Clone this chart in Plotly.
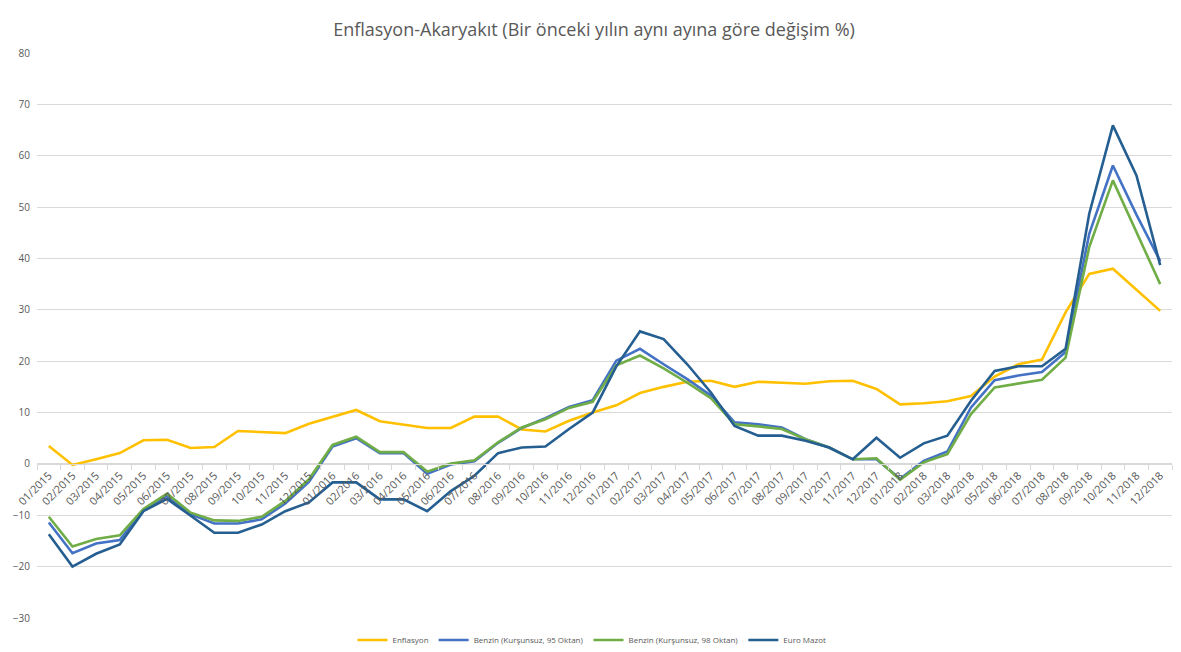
import plotly.graph_objects as go

months = [f"{m:02d}/{y}" for y in range(2015, 2019) for m in range(1, 13)]

enflasyon = [3.5, -0.2, 0.9, 2.1, 4.6, 4.7, 3.1, 3.3, 6.4, 6.2, 6.0, 7.8,
             9.2, 10.5, 8.3, 7.7, 7.0, 7.0, 9.2, 9.2, 6.7, 6.3, 8.4, 10.0,
             11.4, 13.8, 15.0, 16.0, 16.2, 15.0, 16.0, 15.8, 15.6, 16.1, 16.2, 14.6,
             11.6, 11.8, 12.2, 13.2, 17.0, 19.4, 20.3, 29.5, 37.0, 38.0, 33.9, 29.8]

benzin95 = [-11.4, -17.4, -15.5, -14.8, -8.9, -6.2, -9.8, -11.6, -11.6, -10.8, -7.7, -3.5,
            3.4, 5.0, 2.1, 2.1, -1.9, -0.1, 0.5, 4.1, 7.0, 8.9, 11.1, 12.4,
            20.1, 22.4, 19.4, 16.5, 13.3, 8.1, 7.7, 7.1, 4.8, 3.2, 0.9, 0.9,
            -2.9, 0.6, 2.4, 11.0, 16.3, 17.2, 17.9, 21.8, 44.8, 58.1, 48.5, 39.5]

benzin98 = [-10.3, -16.1, -14.6, -13.9, -8.8, -5.8, -9.5, -11.0, -11.1, -10.3, -7.2, -3.0,
            3.7, 5.3, 2.3, 2.3, -1.5, 0.1, 0.7, 4.2, 7.1, 8.7, 10.9, 12.1,
            19.2, 21.1, 18.6, 15.8, 12.8, 7.7, 7.3, 6.8, 4.8, 3.2, 0.9, 1.1,
            -3.1, 0.3, 1.9, 9.7, 14.9, 15.7, 16.4, 20.7, 42.2, 55.2, 45.0, 35.0]

euro_mazot = [-13.7, -20.0, -17.5, -15.7, -9.2, -6.8, -10.1, -13.4, -13.4, -11.8, -9.2, -7.5,
              -3.6, -3.6, -6.9, -6.9, -9.2, -5.3, -2.3, 2.1, 3.2, 3.4, 6.8, 10.0,
              19.0, 25.8, 24.3, 19.4, 13.9, 7.4, 5.5, 5.5, 4.5, 3.2, 0.9, 5.1,
              1.2, 4.0, 5.5, 12.3, 18.1, 19.0, 19.0, 22.4, 48.7, 65.9, 56.1, 38.7]

series_names = ["Enflasyon", "Benzin (Kurşunsuz, 95 Oktan)",
                "Benzin (Kurşunsuz, 98 Oktan)", "Euro Mazot"]
series_colors = ["#FFC000", "#4472C4", "#70AD47", "#255E91"]
series_values = [enflasyon, benzin95, benzin98, euro_mazot]

fig = go.Figure()
for name, color, vals in zip(series_names, series_colors, series_values):
    fig.add_trace(go.Scatter(x=months, y=vals, mode="lines", name=name,
                             line=dict(color=color, width=2.6)))

font_family = "Open Sans, Liberation Sans, sans-serif"
grey = "#595959"

# the page body adds an 8px offset, so the figure is 8px smaller each way
W, H = 1173, 644

fig.update_layout(
    width=W, height=H,
    margin=dict(l=29, r=9, t=45, b=34, autoexpand=False),
    paper_bgcolor="white", plot_bgcolor="white",
    title=dict(text="Enflasyon-Akaryakıt (Bir önceki yılın aynı ayına göre değişim %)",
               x=(594 - 8) / W, xanchor="center", xref="container",
               y=1 - 22 / H, yanchor="middle",
               font=dict(family=font_family, size=18, color=grey)),
    font=dict(family=font_family, color=grey),
    showlegend=True,
    legend=dict(orientation="h", x=(592 - 8) / W, xanchor="center", xref="container",
                yref="container", y=(H - 632) / H, yanchor="middle",
                font=dict(size=8, color=grey), itemwidth=30,
                bgcolor="rgba(0,0,0,0)"),
    xaxis=dict(type="category", range=[-0.5, 47.5], anchor="free", position=30 / 110,
               showgrid=False, showline=True, linecolor="#d9d9d9", linewidth=1,
               ticks="outside", ticklen=5, tickcolor="#d9d9d9", tickson="boundaries",
               tickangle=-45, tickfont=dict(size=11, color=grey), zeroline=False),
    yaxis=dict(range=[-30, 80], dtick=10, showgrid=True, gridcolor="#d9d9d9", gridwidth=1,
               zeroline=False, showline=False, ticks="", ticklabelstandoff=6,
               tickfont=dict(size=10, color=grey)),
)

fig.write_html("out.html")
